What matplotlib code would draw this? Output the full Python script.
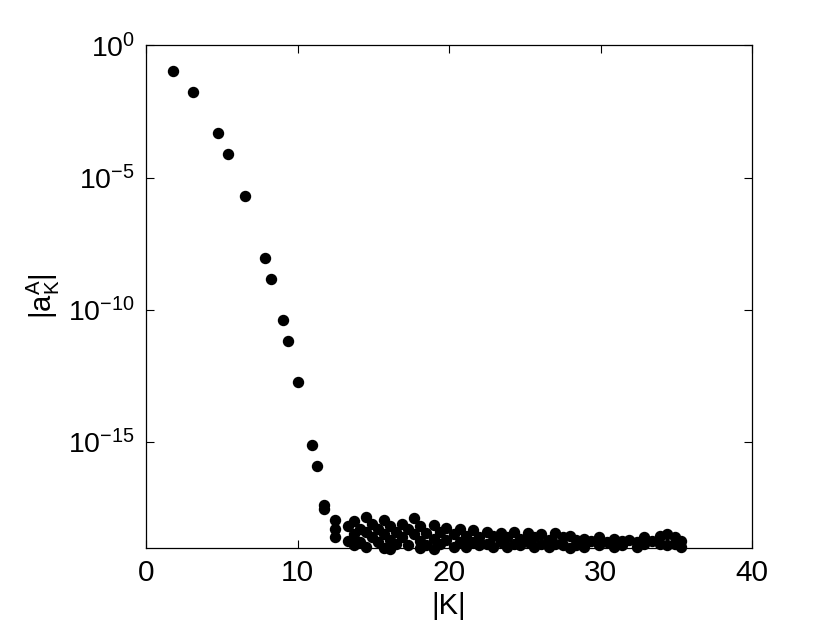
import matplotlib
matplotlib.use("Agg")
import matplotlib.pyplot as plt
from matplotlib.ticker import NullLocator

plt.rcParams['font.family'] = ['Liberation Sans', 'DejaVu Sans']
plt.rcParams['mathtext.fontset'] = 'custom'
plt.rcParams['mathtext.rm'] = 'Liberation Sans'
plt.rcParams['mathtext.default'] = 'regular'

# decaying part of the spectrum
k_decay = [1.78, 3.12, 4.77, 5.39, 6.53, 7.87, 8.25, 9.02, 9.37, 10.03,
           10.98, 11.27, 11.75, 11.75]
a_decay = [1.1e-1, 1.8e-2, 4.8e-4, 7.9e-5, 2.1e-6, 9.3e-9, 1.5e-9, 4.1e-11,
           6.5e-12, 1.8e-13, 7.8e-16, 1.2e-16, 4.0e-18, 2.8e-18]

# round-off floor
k_floor = [12.5, 12.5, 12.5, 13.3, 13.3, 13.7, 13.7, 13.7, 14.1, 14.1,
           14.5, 14.5, 14.5, 14.9, 14.9, 15.3, 15.3, 15.7, 15.7, 15.7,
           16.1, 16.1, 16.1, 16.5, 16.5, 16.9, 16.9, 17.3, 17.3, 17.7,
           17.7, 18.1, 18.1, 18.1, 18.5, 18.5, 19.0, 19.0, 19.0, 19.4,
           19.4, 19.8, 19.8, 20.3, 20.3, 20.7, 20.7, 21.1, 21.1, 21.6,
           21.6, 22.0, 22.0, 22.5, 22.5, 22.9, 22.9, 23.4, 23.4, 23.8,
           23.8, 24.3, 24.3, 24.7, 24.7, 25.2, 25.2, 25.6, 25.6, 26.1,
           26.1, 26.6, 26.6, 27.0, 27.0, 27.5, 27.5, 28.0, 28.0, 28.4,
           28.4, 28.9, 28.9, 29.4, 29.9, 29.9, 30.4, 30.9, 30.9, 31.4,
           31.4, 31.9, 32.4, 32.4, 32.9, 32.9, 33.4, 33.9, 33.9, 34.4,
           34.4, 34.9, 34.9, 35.3, 35.3]
a_floor = [1.1e-18, 5.0e-19, 2.5e-19, 6.3e-19, 1.8e-19, 1.0e-18, 3.2e-19, 1.3e-19, 5.0e-19, 1.6e-19,
           1.4e-18, 4.0e-19, 1.1e-19, 7.9e-19, 2.5e-19, 5.0e-19, 1.6e-19, 1.1e-18, 3.2e-19, 1.0e-19,
           6.3e-19, 2.0e-19, 8.9e-20, 4.0e-19, 1.4e-19, 7.9e-19, 2.5e-19, 5.0e-19, 1.3e-19, 1.3e-18,
           3.2e-19, 6.3e-19, 1.8e-19, 1.0e-19, 3.5e-19, 1.3e-19, 7.1e-19, 2.2e-19, 8.9e-20, 4.0e-19,
           1.4e-19, 5.6e-19, 2.0e-19, 3.2e-19, 1.1e-19, 5.0e-19, 1.6e-19, 2.8e-19, 1.1e-19, 4.5e-19,
           1.6e-19, 2.5e-19, 1.3e-19, 4.0e-19, 1.4e-19, 2.8e-19, 1.1e-19, 3.5e-19, 1.6e-19, 2.5e-19,
           1.1e-19, 4.0e-19, 1.4e-19, 2.2e-19, 1.3e-19, 3.5e-19, 1.6e-19, 2.5e-19, 1.1e-19, 3.2e-19,
           1.4e-19, 2.0e-19, 1.1e-19, 3.5e-19, 1.4e-19, 2.5e-19, 1.3e-19, 2.8e-19, 1.0e-19, 2.0e-19,
           1.3e-19, 2.2e-19, 1.1e-19, 1.8e-19, 2.5e-19, 1.3e-19, 1.6e-19, 2.2e-19, 1.1e-19, 1.8e-19,
           1.3e-19, 2.0e-19, 1.6e-19, 1.1e-19, 2.5e-19, 1.4e-19, 1.8e-19, 2.8e-19, 1.4e-19, 3.2e-19,
           1.3e-19, 2.5e-19, 1.4e-19, 1.8e-19, 1.1e-19]

k = k_decay + k_floor
a = a_decay + a_floor

fig = plt.figure(figsize=(8.3, 6.23), dpi=100)
ax = fig.add_axes([0.176, 0.121, 0.730, 0.806])
ax.plot(k, a, 'o', color='black', markersize=7.2, clip_on=False)

ax.set_yscale('log')
ax.set_xlim(0, 40)
ax.set_ylim(1e-19, 1)
ax.set_xticks([0, 10, 20, 30, 40])
ax.set_yticks([1, 1e-5, 1e-10, 1e-15])
ax.yaxis.set_minor_locator(NullLocator())
ax.tick_params(direction='in', top=True, right=True, length=6, width=0.8)
ax.tick_params(axis='x', labelsize=21.5, pad=8)
ax.tick_params(axis='y', labelsize=20.5, pad=8)
for s in ax.spines.values():
    s.set_linewidth(0.9)

ax.set_xlabel('|K|', fontsize=21, labelpad=4)
ax.set_ylabel(r'$|a_K^A|$', fontsize=21, labelpad=4)

fig.savefig('out.png', dpi=100)
